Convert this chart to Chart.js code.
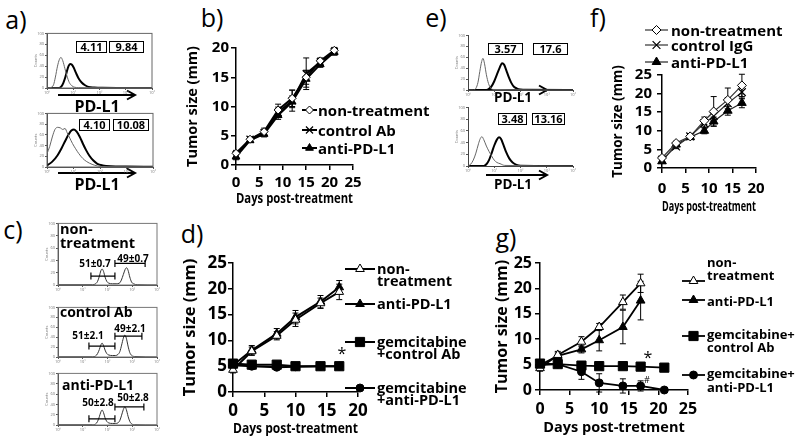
<!DOCTYPE html>
<html>
<head>
<meta charset="utf-8">
<script src="https://cdn.jsdelivr.net/npm/chart.js@4.4.1/dist/chart.umd.min.js"></script>
<style>
body { margin: 0; background: #fff; }
#fig { position: relative; width: 800px; height: 439px; overflow: hidden; background: #fff;
       font-family: "Open Sans", sans-serif; font-weight: bold; color: #000; }
#fig canvas { position: absolute; }
.t { position: absolute; white-space: nowrap; line-height: 1; transform: translate(0, -50%); }
.num { position: absolute; box-sizing: border-box; border: 1.5px solid #000; text-align: center; font-weight: bold; }
#ov { position: absolute; left: 0; top: 0; }
</style>
</head>
<body>
<div id="fig">
<svg id="ov" width="800" height="439"></svg>
</div>
<script>
// ---- b) tumour growth, days vs mm
const bDays = [0, 3, 6, 9, 12, 15, 18, 21];
const bNon = [2.0, 4.4, 5.7, 9.4, 11.4, 15.0, 17.8, 19.6];
const bNonErr = [0.5, 0.3, 0.6, 1.0, 1.4, 1.2, 0.5, 0.5];
const bCtrl = [1.7, 4.4, 5.5, 9.0, 11.0, 15.6, 17.6, 19.4];
const bCtrlErr = [0.6, 0.4, 0.5, 0.9, 1.8, 2.7, 0.6, 0.6];
const bAnti = [1.4, 4.2, 5.3, 8.5, 10.8, 14.7, 17.2, 19.3];
const bAntiErr = [0.5, 0.3, 0.5, 0.7, 1.0, 1.4, 0.5, 0.5];

// ---- f)
const fDays = [0, 3, 6, 9, 11, 14, 17];
const fNon = [2.7, 6.7, 8.5, 12.7, 15.2, 18.3, 22.2];
const fNonErr = [0.5, 0.5, 0.7, 1.0, 4.0, 3.2, 3.0];
const fCtrl = [2.2, 5.8, 8.5, 12.0, 14.0, 17.4, 20.4];
const fCtrlErr = [0.5, 0.6, 0.6, 1.0, 1.3, 1.5, 1.8];
const fAnti = [1.8, 6.3, 8.3, 10.0, 12.5, 15.4, 17.5];
const fAntiErr = [0.5, 0.6, 0.5, 0.8, 1.2, 1.2, 1.3];

// ---- d)
const dDays = [0, 3, 7, 10, 14, 17];
const dNon = [4.3, 7.9, 10.9, 14.0, 17.2, 19.4];
const dNonErr = [0.6, 0.8, 0.8, 1.3, 1.0, 1.5];
const dAnti = [5.2, 8.1, 11.3, 14.5, 17.5, 20.3];
const dAntiErr = [0.4, 0.9, 1.0, 1.3, 1.2, 1.3];
const dGemCtrl = [5.5, 5.3, 5.3, 5.0, 5.0, 5.0];
const dGemCtrlErr = [0.3, 0.3, 0.3, 0.2, 0.2, 0.2];
const dGemAnti = [5.2, 5.0, 4.8, 4.9, 5.0, 5.0];
const dGemAntiErr = [0.3, 0.3, 0.3, 0.2, 0.2, 0.2];

// ---- g)
const gDays = [0, 3, 7, 10, 14, 17, 21];
const gNon = [4.3, 6.9, 9.5, 12.4, 17.3, 21.0, null];
const gNonErr = [0.6, 0.7, 1.0, 0.7, 1.4, 1.8, 0];
const gAnti = [4.9, 6.7, 8.0, 9.8, 12.4, 17.6, null];
const gAntiErr = [0.4, 0.6, 0.7, 2.1, 3.3, 3.8, 0];
const gGemCtrl = [5.2, 5.1, 4.8, 4.7, 4.7, 4.6, 4.4];
const gGemCtrlErr = [0.3, 0.3, 0.3, 0.3, 0.3, 0.3, 0.3];
const gGemAnti = [4.9, 5.1, 3.6, 1.4, 0.8, 0.8, 0.0];
const gGemAntiErr = [0.3, 0.3, 1.5, 1.8, 1.4, 1.0, 0.2];

// ---- flow histograms (x in decades 10^0..10^4, y = % of max count)
const decadeLabels = ['10⁰', '10¹', '10²', '10³', '10⁴'];
const aTopThinX = [0, 0.15, 0.25, 0.32, 0.4, 0.47, 0.53, 0.6, 0.68, 0.76, 0.85, 0.95, 1.05, 1.2, 4];
const aTopThinY = [0, 1, 6, 20, 40, 52, 56, 50, 36, 22, 10, 4, 1.5, 0.5, 0];
const aTopThickX = [0, 0.45, 0.55, 0.62, 0.7, 0.76, 0.82, 0.88, 0.94, 1.02, 1.1, 1.2, 1.32, 1.45, 1.58, 1.8, 2.1, 4];
const aTopThickY = [0, 0, 3, 9, 20, 31, 40, 44, 43, 37, 28, 18, 10, 5, 2, 1, 0.5, 0];
const aBotThinX = [0, 0.1, 0.2, 0.3, 0.4, 0.5, 0.6, 0.68, 0.76, 0.86, 0.96, 1.08, 1.2, 1.35, 1.5, 1.7, 1.9, 2.2, 4];
const aBotThinY = [25, 38, 56, 70, 74, 73, 70, 72, 64, 54, 44, 34, 25, 16, 10, 5, 2, 0.5, 0];
const aBotThickX = [0, 0.2, 0.4, 0.55, 0.7, 0.82, 0.92, 1.02, 1.12, 1.24, 1.36, 1.48, 1.6, 1.75, 1.9, 2.1, 2.4, 3.0, 4];
const aBotThickY = [3, 10, 22, 35, 50, 61, 68, 70, 66, 56, 43, 31, 21, 12, 6, 3, 1.5, 1, 0.5];
const eTopThinX = [0, 0.2, 0.3, 0.38, 0.45, 0.52, 0.57, 0.63, 0.7, 0.78, 0.86, 0.95, 4];
const eTopThinY = [0, 0, 3, 14, 34, 52, 58, 48, 28, 12, 4, 1, 0];
const eTopThickX = [0, 0.7, 0.8, 0.9, 1.0, 1.1, 1.2, 1.3, 1.38, 1.46, 1.55, 1.65, 1.75, 1.87, 2.0, 2.2, 4];
const eTopThickY = [0, 0, 2, 7, 16, 28, 40, 49, 46, 36, 24, 13, 6, 2.5, 1, 0.3, 0];
const eBotThinX = [0, 0.1, 0.2, 0.3, 0.4, 0.47, 0.53, 0.6, 0.7, 0.8, 0.9, 1.0, 1.1, 1.22, 1.4, 4];
const eBotThinY = [0, 3, 10, 22, 38, 47, 50, 45, 34, 25, 17, 10, 6, 4, 1, 0];
const eBotThickX = [0, 0.6, 0.7, 0.8, 0.9, 1.0, 1.1, 1.18, 1.26, 1.35, 1.45, 1.57, 1.7, 1.85, 2.0, 4];
const eBotThickY = [0, 0, 3, 10, 22, 35, 45, 49, 46, 36, 24, 13, 6, 2, 0.5, 0];
const cTopX = [0, 1.4, 1.52, 1.6, 1.67, 1.73, 1.78, 1.84, 1.9, 1.97, 2.05, 2.2, 2.35, 2.48, 2.56, 2.64, 2.71, 2.77, 2.83, 2.9, 2.97, 3.05, 3.2, 4];
const cTopY = [0.5, 0.5, 2, 6, 14, 23, 26, 22, 13, 6, 3, 2, 2, 3, 8, 17, 25, 28, 24, 13, 5, 2, 0.5, 0];
const cMidX = [0, 1.4, 1.52, 1.6, 1.67, 1.73, 1.78, 1.84, 1.9, 1.97, 2.05, 2.2, 2.32, 2.42, 2.5, 2.57, 2.64, 2.7, 2.76, 2.83, 2.9, 2.98, 3.1, 4];
const cMidY = [0.5, 0.5, 2, 7, 15, 24, 28, 23, 14, 7, 4, 3, 3, 5, 11, 24, 38, 44, 38, 22, 9, 3, 1, 0];
const cBotX = [0, 1.4, 1.52, 1.6, 1.67, 1.73, 1.78, 1.84, 1.9, 1.97, 2.05, 2.2, 2.32, 2.42, 2.5, 2.57, 2.64, 2.7, 2.76, 2.83, 2.9, 2.98, 3.1, 4];
const cBotY = [0.5, 0.5, 2, 7, 16, 25, 29, 24, 14, 7, 4, 3, 3, 4, 9, 19, 30, 35, 30, 17, 7, 2, 0.5, 0];
// M1 / M2 gates: [from decade, to decade, height]
const cTopGates = [[1.33, 2.30, 14.5], [2.30, 3.52, 35]];
const cMidGates = [[1.25, 2.30, 22], [2.30, 3.39, 42]];
const cBotGates = [[1.25, 2.30, 12], [2.30, 3.47, 35]];

Chart.defaults.font.family = '"Open Sans", sans-serif';
Chart.defaults.font.weight = 'bold';
Chart.defaults.color = '#000';

const fig = document.getElementById('fig');
const ov = document.getElementById('ov');

function canvasAt(x, y, w, h) {
    const c = document.createElement('canvas');
    c.width = w; c.height = h;
    c.style.left = x + 'px'; c.style.top = y + 'px';
    c.style.width = w + 'px'; c.style.height = h + 'px';
    fig.appendChild(c);
    return c;
}

function txt(str, x, y, size, center, normal) {
    const d = document.createElement('div');
    d.className = 't';
    d.textContent = str;
    d.style.left = x + 'px';
    d.style.top = y + 'px';
    d.style.fontSize = size + 'px';
    if (center) d.style.transform = 'translate(-50%, -50%)';
    if (normal) d.style.fontWeight = 'normal';
    fig.appendChild(d);
}

function numBox(str, x, y, w, h, size) {
    const d = document.createElement('div');
    d.className = 'num';
    d.textContent = str;
    d.style.left = x + 'px'; d.style.top = y + 'px';
    d.style.width = w + 'px'; d.style.height = h + 'px';
    d.style.fontSize = size + 'px';
    d.style.lineHeight = (h - 3) + 'px';
    fig.appendChild(d);
}

function arrow(x1, x2, y) {
    ov.innerHTML += `<path d="M${x1} ${y} H${x2} M${x2 - 8} ${y - 4.5} L${x2} ${y} L${x2 - 8} ${y + 4.5}" stroke="#000" stroke-width="2" fill="none"/>`;
}

// error bars under the markers
const errorBars = {
    id: 'errorBars',
    beforeDatasetsDraw(chart) {
        const { ctx, scales: { x, y } } = chart;
        chart.data.datasets.forEach(ds => {
            if (!ds.errors) return;
            ctx.save();
            ctx.strokeStyle = '#000';
            ctx.lineWidth = 1;
            ds.data.forEach((p, j) => {
                const e = ds.errors[j];
                if (!e) return;
                const px = x.getPixelForValue(p.x);
                const top = y.getPixelForValue(p.y + e);
                const bot = y.getPixelForValue(p.y - e);
                ctx.beginPath();
                ctx.moveTo(px, top); ctx.lineTo(px, bot);
                ctx.moveTo(px - 3, top); ctx.lineTo(px + 3, top);
                ctx.moveTo(px - 3, bot); ctx.lineTo(px + 3, bot);
                ctx.stroke();
            });
            ctx.restore();
        });
    }
};

// legend keys: a short line with the dataset marker in the middle
const keyMarks = {
    id: 'keyMarks',
    afterDraw(chart, args, opts) {
        const ctx = chart.ctx;
        (opts.items || []).forEach(it => {
            const ds = chart.data.datasets[it.ds];
            ctx.save();
            ctx.strokeStyle = ds.borderColor;
            ctx.lineWidth = ds.borderWidth;
            ctx.beginPath();
            ctx.moveTo(it.x, it.y);
            ctx.lineTo(it.x + it.len, it.y);
            ctx.stroke();
            ctx.fillStyle = ds.pointBackgroundColor;
            ctx.strokeStyle = ds.pointBorderColor;
            ctx.lineWidth = ds.pointBorderWidth;
            Chart.helpers.drawPoint(ctx, {
                pointStyle: ds.pointStyle, radius: ds.pointRadius,
                rotation: 0, borderWidth: ds.pointBorderWidth
            }, it.x + it.len / 2, it.y);
            ctx.restore();
        });
    }
};

const frame = {
    id: 'frame',
    afterDraw(chart, args, opts) {
        if (!opts.color) return;
        const { ctx, chartArea: a } = chart;
        ctx.save();
        ctx.strokeStyle = opts.color;
        ctx.lineWidth = 1;
        ctx.strokeRect(a.left, a.top, a.right - a.left, a.bottom - a.top);
        ctx.restore();
    }
};

const gates = {
    id: 'gates',
    afterDatasetsDraw(chart, args, opts) {
        const { ctx, scales: { x, y } } = chart;
        (opts.items || []).forEach(g => {
            const x1 = x.getPixelForValue(g[0]), x2 = x.getPixelForValue(g[1]), py = y.getPixelForValue(g[2]);
            ctx.save();
            ctx.strokeStyle = '#000';
            ctx.lineWidth = 1.2;
            ctx.beginPath();
            ctx.moveTo(x1, py); ctx.lineTo(x2, py);
            ctx.moveTo(x1, py - 3.5); ctx.lineTo(x1, py + 3.5);
            ctx.moveTo(x2, py - 3.5); ctx.lineTo(x2, py + 3.5);
            ctx.stroke();
            ctx.restore();
        });
    }
};

function series(days, vals, errs, style) {
    const pts = [], es = [];
    days.forEach((d, i) => {
        if (vals[i] !== null) { pts.push({ x: d, y: vals[i] }); es.push(errs[i]); }
    });
    return Object.assign({ data: pts, errors: es, clip: false, tension: 0, fill: false }, style);
}

const mk = {
    openDiamond: { pointStyle: 'rectRot', pointRadius: 4, pointBackgroundColor: '#fff', pointBorderColor: '#000', pointBorderWidth: 1 },
    cross: { pointStyle: 'crossRot', pointRadius: 5, pointBackgroundColor: '#000', pointBorderColor: '#000', pointBorderWidth: 1.2 },
    triangle: { pointStyle: 'triangle', pointRadius: 5, pointBackgroundColor: '#000', pointBorderColor: '#000', pointBorderWidth: 1 },
    openTriangle: { pointStyle: 'triangle', pointRadius: 5, pointBackgroundColor: '#fff', pointBorderColor: '#000', pointBorderWidth: 1 },
    square: { pointStyle: 'rect', pointRadius: 6.5, pointBackgroundColor: '#000', pointBorderColor: '#000', pointBorderWidth: 1 },
    circle: { pointStyle: 'circle', pointRadius: 4, pointBackgroundColor: '#000', pointBorderColor: '#000', pointBorderWidth: 1 }
};

function withLine(marker, color, width) {
    return Object.assign({ borderColor: color, borderWidth: width }, marker);
}

function plot(box, o) {
    const c = canvasAt(box.x, box.y, box.w, box.h);
    const a = o.area;
    const W = 'bold';
    new Chart(c, {
        type: 'line',
        data: { datasets: o.datasets },
        options: {
            responsive: false, animation: false, devicePixelRatio: 1, events: [],
            layout: { padding: { top: a.top, right: box.w - a.right, left: 0, bottom: 0 } },
            plugins: { legend: { display: false }, tooltip: { enabled: false }, keyMarks: { items: o.keys } },
            scales: {
                x: {
                    type: 'linear', min: 0, max: o.xMax,
                    ticks: { stepSize: 5, autoSkip: false, maxRotation: 0, font: { size: o.tick, weight: W }, padding: o.xPad, color: '#000' },
                    grid: { drawOnChartArea: false, tickLength: 5, color: '#000', lineWidth: 1.5 },
                    border: { color: '#000', width: 1.5 },
                    title: { display: true, text: o.xTitle, color: '#000', font: { size: o.xt, weight: W }, padding: { top: 0, bottom: o.xtPad } },
                    afterFit: s => { s.height = box.h - a.bottom; }
                },
                y: {
                    min: 0, max: o.yMax,
                    ticks: { stepSize: 5, autoSkip: false, font: { size: o.tick, weight: W }, padding: o.yPad, color: '#000' },
                    grid: { drawOnChartArea: false, tickLength: 5, color: '#000', lineWidth: 1.5 },
                    border: { color: '#000', width: 1.5 },
                    title: { display: true, text: 'Tumor size (mm)', color: '#000', font: { size: o.yt, weight: W }, padding: { top: o.ytPad, bottom: 0 } },
                    afterFit: s => { s.width = a.left; }
                }
            }
        },
        plugins: [errorBars, keyMarks]
    });
}

function curve(xs, ys, color, width) {
    return {
        data: xs.map((x, i) => ({ x: x, y: ys[i] })),
        borderColor: color, borderWidth: width, pointRadius: 0,
        cubicInterpolationMode: 'monotone', fill: false
    };
}

function hist(bx, curves, o) {
    const ml = 14, mt = 3, mr = 3, mb = 8;
    const c = canvasAt(bx.x - ml, bx.y - mt, bx.w + ml + mr, bx.h + mt + mb);
    const tiny = { size: 4, weight: 'normal' };
    new Chart(c, {
        type: 'line',
        data: { datasets: curves },
        options: {
            responsive: false, animation: false, devicePixelRatio: 1, events: [],
            layout: { padding: { top: mt, right: mr, left: 0, bottom: 0 } },
            plugins: { legend: { display: false }, tooltip: { enabled: false },
                       frame: { color: o.frame }, gates: { items: o.gates || [] } },
            scales: {
                x: {
                    type: 'linear', min: 0, max: 4,
                    ticks: { stepSize: 1, font: tiny, color: '#777', padding: 0, autoSkip: false, maxRotation: 0,
                             callback: v => decadeLabels[v] },
                    grid: { drawOnChartArea: false, tickLength: 2, color: '#555' },
                    border: { color: '#444', width: 1 },
                    afterFit: s => { s.height = mb; }
                },
                y: {
                    min: 0, max: 100,
                    ticks: { stepSize: 20, font: tiny, color: '#777', padding: 1, autoSkip: false },
                    grid: { drawOnChartArea: false, tickLength: 2, color: '#555' },
                    border: { color: '#444', width: 1 },
                    title: { display: true, text: 'Counts', font: tiny, color: '#777', padding: 0 },
                    afterFit: s => { s.width = ml; }
                }
            }
        },
        plugins: [frame, gates]
    });
}

// ---------- panel letters
[['a)', 16, 19], ['b)', 212, 17], ['e)', 436, 17], ['f)', 598, 17],
 ['c)', 13, 229], ['d)', 192, 233], ['g)', 506, 237]].forEach(p => txt(p[0], p[1], p[2], 25, true, true));

// ---------- a) histograms
hist({ x: 47, y: 33, w: 105, h: 55 }, [curve(aTopThinX, aTopThinY, '#666', 1), curve(aTopThickX, aTopThickY, '#000', 2)], { frame: '#666' });
hist({ x: 47, y: 113, w: 106, h: 54 }, [curve(aBotThinX, aBotThinY, '#666', 1), curve(aBotThickX, aBotThickY, '#000', 2)], { frame: '#666' });
numBox('4.11', 76, 41, 31, 12, 11);
numBox('9.84', 109, 41, 35, 12, 11);
numBox('4.10', 79, 119, 31, 12, 11);
numBox('10.08', 113, 119, 36, 12, 11);
arrow(58, 135, 95);
arrow(58, 135, 173);
txt('PD-L1', 97, 106, 16, true);
txt('PD-L1', 97, 184, 16, true);

// ---------- e) histograms
hist({ x: 468, y: 35, w: 105, h: 55 }, [curve(eTopThinX, eTopThinY, '#666', 1), curve(eTopThickX, eTopThickY, '#000', 2)], {});
hist({ x: 468, y: 107, w: 105, h: 59 }, [curve(eBotThinX, eBotThinY, '#666', 1), curve(eBotThickX, eBotThickY, '#000', 2)], {});
numBox('3.57', 488, 43, 35, 12, 11);
numBox('17.6', 533, 43, 35, 12, 11);
numBox('3.48', 498, 113, 29, 12, 11);
numBox('13.16', 532, 113, 33, 12, 11);
arrow(486, 547, 90);
arrow(486, 547, 175);
txt('PD-L1', 513, 98, 13.5, true);
txt('PD-L1', 513, 185, 13.5, true);

// ---------- c) histograms
hist({ x: 58, y: 223, w: 99, h: 62 }, [curve(cTopX, cTopY, '#333', 1)], { frame: '#777', gates: cTopGates });
hist({ x: 58, y: 307, w: 99, h: 50 }, [curve(cMidX, cMidY, '#333', 1)], { frame: '#777', gates: cMidGates });
hist({ x: 58, y: 373, w: 99, h: 52 }, [curve(cBotX, cBotY, '#333', 1)], { frame: '#777', gates: cBotGates });
txt('non-', 60, 229, 14.5);
txt('treatment', 60, 243, 14.5);
txt('control Ab', 60, 312, 14);
txt('anti-PD-L1', 62, 385, 14);
txt('51±0.7', 95, 263, 10, true);
txt('49±0.7', 133, 258, 10, true);
txt('51±2.1', 88, 335, 10, true);
txt('49±2.1', 130, 328, 10, true);
txt('50±2.8', 98, 402, 10, true);
txt('50±2.8', 133, 397, 10, true);

// ---------- b)
plot({ x: 180, y: 35, w: 225, h: 175 }, {
    area: { left: 56, top: 13, right: 173, bottom: 130 },
    xMax: 25, yMax: 20, tick: 15, xPad: 4, yPad: 2,
    xTitle: 'Days post-treatment', xt: 13.5, xtPad: 3, yt: 14.5, ytPad: 4,
    datasets: [
        series(bDays, bNon, bNonErr, withLine(mk.openDiamond, '#000', 2)),
        series(bDays, bCtrl, bCtrlErr, withLine(mk.cross, '#000', 2)),
        series(bDays, bAnti, bAntiErr, withLine(Object.assign({}, mk.triangle, { pointRadius: 4.5 }), '#000', 2))
    ],
    keys: [{ ds: 0, x: 122, y: 75, len: 15 }, { ds: 1, x: 122, y: 95, len: 15 }, { ds: 2, x: 122, y: 113, len: 15 }]
});
txt('non-treatment', 318, 110, 15);
txt('control Ab', 318, 130, 15);
txt('anti-PD-L1', 318, 148, 15);

// ---------- f)
plot({ x: 600, y: 20, w: 200, h: 200 }, {
    area: { left: 62, top: 55, right: 156, bottom: 148 },
    xMax: 20, yMax: 25, tick: 15, xPad: 7, yPad: 5,
    xTitle: 'Days post-treatment', xt: 14.5, xtPad: 4, yt: 13.5, ytPad: 10,
    datasets: [
        series(fDays, fNon, fNonErr, withLine(Object.assign({}, mk.openDiamond, { pointRadius: 4.5 }), '#333', 1.2)),
        series(fDays, fCtrl, fCtrlErr, withLine(Object.assign({}, mk.cross, { pointRadius: 5.5 }), '#333', 1.2)),
        series(fDays, fAnti, fAntiErr, withLine(mk.triangle, '#222', 1.2))
    ],
    keys: [{ ds: 0, x: 45, y: 10, len: 23 }, { ds: 1, x: 45, y: 25, len: 23 }, { ds: 2, x: 45, y: 42, len: 23 }]
});
txt('non-treatment', 671, 30, 15);
txt('control IgG', 671, 45, 15);
txt('anti-PD-L1', 671, 62, 15);

// ---------- d)
plot({ x: 180, y: 250, w: 200, h: 189 }, {
    area: { left: 53, top: 13, right: 178, bottom: 142 },
    xMax: 20, yMax: 25, tick: 17, xPad: 4, yPad: 1,
    xTitle: 'Days post-treatment', xt: 15, xtPad: 1, yt: 16.5, ytPad: 0,
    datasets: [
        series(dDays, dNon, dNonErr, withLine(mk.openTriangle, '#000', 2)),
        series(dDays, dAnti, dAntiErr, withLine(mk.triangle, '#000', 2)),
        Object.assign(series(dDays, dGemCtrl, dGemCtrlErr, withLine(mk.square, '#000', 2)), { order: -1 }),
        series(dDays, dGemAnti, dGemAntiErr, withLine(mk.circle, '#000', 2))
    ],
    keys: [{ ds: 0, x: 165, y: 19, len: 30 }, { ds: 1, x: 165, y: 54, len: 30 },
           { ds: 2, x: 165, y: 92, len: 30 }, { ds: 3, x: 165, y: 138, len: 30 }]
});
txt('non-', 377, 269, 14.5);
txt('treatment', 377, 281, 14.5);
txt('anti-PD-L1', 377, 304, 14.5);
txt('gemcitabine', 377, 342, 14.5);
txt('+control Ab', 377, 354, 14.5);
txt('gemcitabine', 377, 388, 14.5);
txt('+anti-PD-L1', 377, 400, 14.5);
txt('*', 342, 353, 16, true, true);

// ---------- g)
plot({ x: 480, y: 250, w: 320, h: 189 }, {
    area: { left: 60, top: 13, right: 208, bottom: 140 },
    xMax: 25, yMax: 25, tick: 16, xPad: 5, yPad: 3,
    xTitle: 'Days post-tretment', xt: 14.5, xtPad: 2, yt: 16, ytPad: 13,
    datasets: [
        series(gDays, gNon, gNonErr, withLine(mk.openTriangle, '#000', 1.8)),
        series(gDays, gAnti, gAntiErr, withLine(mk.triangle, '#000', 1.8)),
        Object.assign(series(gDays, gGemCtrl, gGemCtrlErr, withLine(mk.square, '#000', 1.8)), { order: -1 }),
        series(gDays, gGemAnti, gGemAntiErr, withLine(mk.circle, '#000', 1.8))
    ],
    keys: [{ ds: 0, x: 202, y: 31, len: 23 }, { ds: 1, x: 202, y: 50, len: 23 },
           { ds: 2, x: 202, y: 86, len: 23 }, { ds: 3, x: 202, y: 125, len: 23 }]
});
txt('non-', 707, 262, 13);
txt('treatment', 707, 275, 13);
txt('anti-PD-L1', 707, 301, 13);
txt('gemcitabine+', 707, 334, 13);
txt('control Ab', 707, 347, 13);
txt('gemcitabine+', 707, 373, 13);
txt('anti-PD-L1', 707, 387, 13);
txt('*', 648, 357, 16, true, true);
txt('#', 647, 379, 9, true, true);
</script>
</body>
</html>
